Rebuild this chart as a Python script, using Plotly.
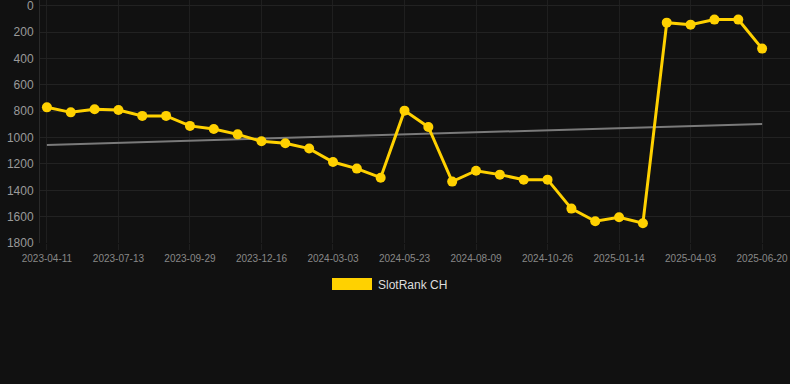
import plotly.graph_objects as go
import numpy as np

dates = ["2023-04-11", "2023-05-12", "2023-06-12", "2023-07-13", "2023-08-08", "2023-09-03",
         "2023-09-29", "2023-10-25", "2023-11-20", "2023-12-16", "2024-01-11", "2024-02-06",
         "2024-03-03", "2024-03-30", "2024-04-26", "2024-05-23", "2024-06-18", "2024-07-14",
         "2024-08-09", "2024-09-04", "2024-09-30", "2024-10-26", "2024-11-21", "2024-12-18",
         "2025-01-14", "2025-02-09", "2025-03-08", "2025-04-03", "2025-04-29", "2025-05-25",
         "2025-06-20"]
rank = [770, 808, 785, 790, 835, 835, 911, 934, 975, 1028, 1043, 1083, 1185, 1235, 1304,
        795, 919, 1334, 1251, 1281, 1319, 1319, 1539, 1635, 1605, 1650, 127, 142, 104, 104, 324]
tick_labels = dates[::3]
y_ticks = [0, 200, 400, 600, 800, 1000, 1200, 1400, 1600, 1800]
series_name = "SlotRank CH"
trend = [1055, 896]  # trend line values at first and last date

YELLOW = "#FFD100"
fig = go.Figure()
fig.add_trace(go.Scatter(x=[dates[0], dates[-1]], y=trend, mode="lines",
                         line=dict(color="#7a7a7a", width=2), showlegend=False, hoverinfo="skip"))
fig.add_trace(go.Scatter(x=dates, y=rank, mode="lines+markers", name=series_name,
                         line=dict(color=YELLOW, width=3),
                         marker=dict(color=YELLOW, size=10), showlegend=False))

fig.update_layout(
    width=790, height=384,
    paper_bgcolor="#111111", plot_bgcolor="#111111",
    margin=dict(l=40, r=0, t=0, b=141),
    font=dict(family="Liberation Sans, Arial, sans-serif"),
    xaxis=dict(type="category", categoryorder="array", categoryarray=dates,
               tickmode="array", tickvals=tick_labels, ticktext=tick_labels,
               range=[-0.29, 31.17], showgrid=True, gridcolor="#1f1f1f", gridwidth=1,
               tickfont=dict(size=10, color="#888888"), ticks="outside", ticklen=6,
               tickcolor="#1f1f1f", zeroline=False, showline=False),
    yaxis=dict(range=[1800, -45], tickmode="array", tickvals=y_ticks,
               showgrid=True, gridcolor="#222222", gridwidth=1,
               tickfont=dict(size=12, color="#9a9a9a"), zeroline=False,
               showline=True, linecolor="#2a2a2a", mirror=False, ticklabelstandoff=3,
               ticklabeloverflow="allow"),
    showlegend=False,
)
# legend drawn manually (swatch + label)
fig.add_shape(type="rect", xref="paper", yref="paper",
              x0=(332 - 40) / 750, x1=(372 - 40) / 750,
              y0=(243 - 290) / 243, y1=(243 - 278) / 243,
              fillcolor=YELLOW, line=dict(width=0))
fig.add_annotation(xref="paper", yref="paper", x=(376 - 40) / 750, y=(243 - 285) / 243,
                   text=series_name, showarrow=False, xanchor="left", yanchor="middle",
                   font=dict(size=12, color="#dddddd"))
fig.write_html("out.html", config={"displayModeBar": False},
               post_script="document.body.style.margin='0';document.body.style.background='#111111';")
